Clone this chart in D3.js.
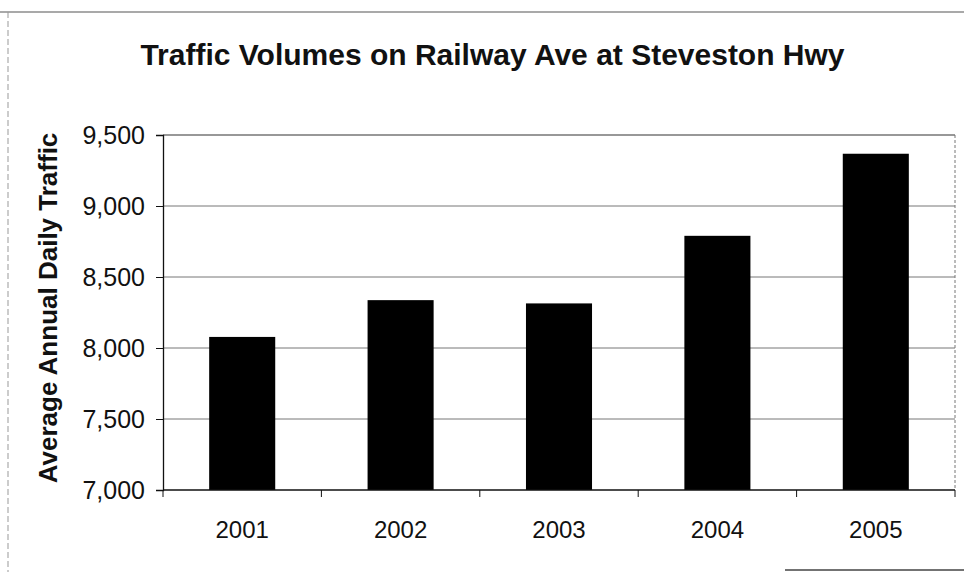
<!DOCTYPE html>
<html>
<head>
<meta charset="utf-8">
<script src="https://cdn.jsdelivr.net/npm/d3@7/dist/d3.min.js"></script>
<style>
  html, body { margin: 0; padding: 0; background: #fff; }
  svg { display: block; font-family: "Liberation Sans", Arial, sans-serif; }
</style>
</head>
<body>
<svg id="chart" width="964" height="572"></svg>
<script>
const years = ["2001", "2002", "2003", "2004", "2005"];
const traffic = [8078, 8337, 8314, 8790, 9368];
const yTicks = [7000, 7500, 8000, 8500, 9000, 9500];

const svg = d3.select("#chart");
const W = 964, H = 572;
const m = { left: 163, right: 955, top: 135, bottom: 490 };

// outer frame (scanned page border)
svg.append("line").attr("x1", 0).attr("x2", W).attr("y1", 12).attr("y2", 12)
  .attr("stroke", "#555").attr("stroke-width", 1.2);
svg.append("line").attr("x1", 8).attr("x2", 8).attr("y1", 12).attr("y2", H)
  .attr("stroke", "#999").attr("stroke-width", 1).attr("stroke-dasharray", "6,3");
svg.append("line").attr("x1", 785).attr("x2", W).attr("y1", 570).attr("y2", 570)
  .attr("stroke", "#444").attr("stroke-width", 1.5);

const x = d3.scaleBand().domain(years).range([m.left, m.right])
  .paddingInner(0.583).paddingOuter(0.2915);
const y = d3.scaleLinear().domain([7000, 9500]).range([m.bottom, m.top]);

// gridlines
svg.append("g").selectAll("line").data(yTicks.filter(d => d > 7000 && d < 9500)).join("line")
  .attr("x1", m.left).attr("x2", m.right)
  .attr("y1", d => y(d)).attr("y2", d => y(d))
  .attr("stroke", "#777").attr("stroke-width", 1);

// plot border: top and right
svg.append("line").attr("x1", m.left).attr("x2", m.right).attr("y1", y(9500)).attr("y2", y(9500))
  .attr("stroke", "#333").attr("stroke-width", 1.2);
svg.append("line").attr("x1", m.right).attr("x2", m.right).attr("y1", y(9500)).attr("y2", y(7000))
  .attr("stroke", "#777").attr("stroke-width", 1).attr("stroke-dasharray", "3,2");

// bars
svg.append("g").selectAll("rect").data(years).join("rect")
  .attr("x", d => x(d))
  .attr("width", x.bandwidth())
  .attr("y", (d, i) => y(traffic[i]))
  .attr("height", (d, i) => y(7000) - y(traffic[i]))
  .attr("fill", "#000");

// y axis
const yAxis = d3.axisLeft(y).tickValues(yTicks).tickFormat(d3.format(",")).tickSize(7).tickPadding(11);
const gy = svg.append("g").attr("transform", `translate(${m.left},0)`).call(yAxis);
gy.select(".domain").attr("stroke", "#111").attr("stroke-width", 1.3);
gy.selectAll(".tick line").attr("stroke", "#111");
gy.selectAll("text").attr("font-size", 25).attr("fill", "#111")
  .attr("font-family", '"Liberation Sans", Arial, sans-serif');

// x axis: ticks at category boundaries
const gx = svg.append("g").attr("transform", `translate(0,${m.bottom})`);
gx.append("line").attr("x1", m.left).attr("x2", m.right).attr("y1", 0).attr("y2", 0)
  .attr("stroke", "#111").attr("stroke-width", 1.3);
const bounds = years.map(d => x(d) - x.step() * x.paddingInner() / 2).concat([m.right]);
gx.selectAll("line.tk").data(bounds).join("line").attr("class", "tk")
  .attr("x1", d => d).attr("x2", d => d).attr("y1", 0).attr("y2", 7)
  .attr("stroke", "#111");
gx.selectAll("text").data(years).join("text")
  .attr("x", d => x(d) + x.bandwidth() / 2)
  .attr("y", 48)
  .attr("text-anchor", "middle")
  .attr("font-size", 24)
  .attr("fill", "#111")
  .text(d => d);

// title
svg.append("text").attr("x", 492.5).attr("y", 65).attr("text-anchor", "middle")
  .attr("font-size", 30).attr("font-weight", "bold").attr("fill", "#111")
  .text("Traffic Volumes on Railway Ave at Steveston Hwy");

// y label
svg.append("text").attr("transform", "translate(57,308) rotate(-90)")
  .attr("text-anchor", "middle").attr("font-size", 26).attr("font-weight", "bold").attr("fill", "#111")
  .text("Average Annual Daily Traffic");
</script>
</body>
</html>
